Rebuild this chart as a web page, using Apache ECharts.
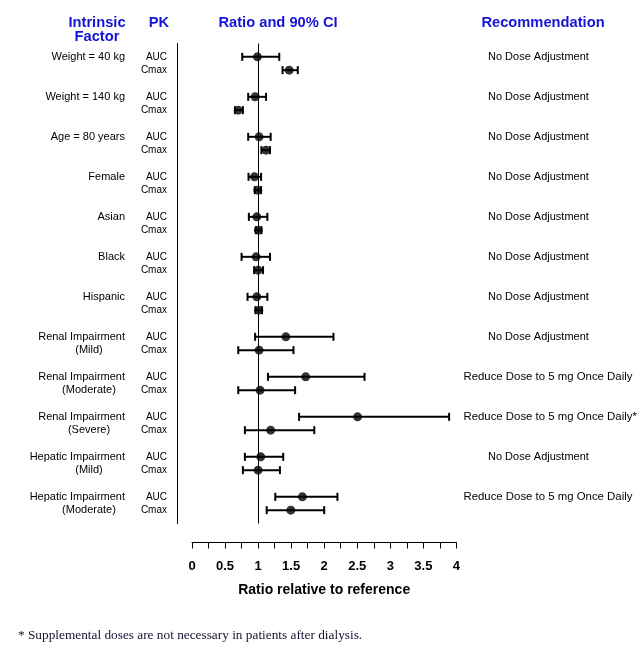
<!DOCTYPE html>
<html><head><meta charset="utf-8">
<script src="https://cdn.jsdelivr.net/npm/echarts@6/dist/echarts.min.js"></script>
<style>html,body{margin:0;padding:0;background:#fff}#c{width:642px;height:650px}</style>
</head><body><div id="c"></div><script>
const factorLine1 = ['Weight = 40 kg','Weight = 140 kg','Age = 80 years','Female','Asian','Black','Hispanic','Renal Impairment','Renal Impairment','Renal Impairment','Hepatic Impairment','Hepatic Impairment'];
const factorLine2 = ['','','','','','','','(Mild)','(Moderate)','(Severe)','(Mild)','(Moderate)'];
const pkParams = ['AUC','Cmax'];
const aucRatio = [0.99,0.955,1.015,0.945,0.98,0.97,0.98,1.42,1.72,2.505,1.04,1.67];
const aucLow   = [0.76,0.85,0.85,0.855,0.86,0.75,0.84,0.955,1.15,1.62,0.80,1.26];
const aucHigh  = [1.32,1.12,1.19,1.045,1.14,1.18,1.14,2.14,2.61,3.89,1.38,2.20];
const cmaxRatio = [1.47,0.70,1.12,0.995,1.005,1.0,1.01,1.015,1.03,1.19,1.0,1.495];
const cmaxLow   = [1.37,0.65,1.05,0.95,0.965,0.94,0.96,0.70,0.70,0.80,0.77,1.13];
const cmaxHigh  = [1.60,0.77,1.18,1.045,1.05,1.075,1.06,1.535,1.56,1.85,1.33,2.0];
const recommendations = ['No Dose Adjustment','No Dose Adjustment','No Dose Adjustment','No Dose Adjustment','No Dose Adjustment','No Dose Adjustment','No Dose Adjustment','No Dose Adjustment','Reduce Dose to 5 mg Once Daily','Reduce Dose to 5 mg Once Daily*','No Dose Adjustment','Reduce Dose to 5 mg Once Daily'];
const xTickLabels = ['0','0.5','1','1.5','2','2.5','3','3.5','4'];
const headers = ['Intrinsic\nFactor','PK','Ratio and 90% CI','Recommendation'];
const xAxisTitle = 'Ratio relative to reference';
const footnote = '* Supplemental doses are not necessary in patients after dialysis.';
const referenceRatio = 1;

const ROW_OFF = 1/6;
const ciData = [], ptData = [], labelData = [];
for (let i = 0; i < factorLine1.length; i++) {
  ciData.push([aucLow[i], aucHigh[i], i - ROW_OFF]);
  ciData.push([cmaxLow[i], cmaxHigh[i], i + ROW_OFF]);
  ptData.push([aucRatio[i], i - ROW_OFF]);
  ptData.push([cmaxRatio[i], i + ROW_OFF]);
  labelData.push([0, i]);
}
const SANS = '"Liberation Sans", Arial, sans-serif';
const BLUE = '#1414d8';
const HFONT = 'bold 14.7px ' + SANS;

const chart = echarts.init(document.getElementById('c'), null, {renderer:'canvas'});
chart.setOption({
  animation: false,
  backgroundColor: '#fff',
  grid: {left: 192, width: 264.4, top: 43.5, height: 480},
  xAxis: {
    type: 'value', min: 0, max: 4, interval: 0.25, offset: 19, position: 'bottom',
    axisLine: {show: true, onZero: false, lineStyle: {color: '#000', width: 1}},
    axisTick: {show: true, inside: false, length: 6, lineStyle: {color: '#000', width: 1}},
    splitLine: {show: false},
    axisLabel: {
      margin: 17, color: '#000', fontFamily: SANS, fontWeight: 'bold', fontSize: 13,
      formatter: v => { const k = Math.round(v * 2); return Math.abs(v * 2 - k) < 1e-6 ? xTickLabels[k] : ''; }
    },
    name: xAxisTitle, nameLocation: 'middle', nameGap: 41,
    nameTextStyle: {color: '#000', fontFamily: SANS, fontWeight: 'bold', fontSize: 14}
  },
  yAxis: {
    type: 'value', inverse: true, min: -0.5, max: 11.5, offset: 15, position: 'left',
    axisLine: {show: true, onZero: false, lineStyle: {color: '#000', width: 1}},
    axisTick: {show: false}, axisLabel: {show: false}, splitLine: {show: false}
  },
  graphic: [
    {type:'text', x: 97, y: 16, style:{text: headers[0], fill: BLUE, font: HFONT, textAlign:'center', textVerticalAlign:'top', lineHeight: 14}},
    {type:'text', x: 159, y: 23, style:{text: headers[1], fill: BLUE, font: HFONT, textAlign:'center', textVerticalAlign:'middle'}},
    {type:'text', x: 278, y: 23, style:{text: headers[2], fill: BLUE, font: HFONT, textAlign:'center', textVerticalAlign:'middle'}},
    {type:'text', x: 543, y: 23, style:{text: headers[3], fill: BLUE, font: HFONT, textAlign:'center', textVerticalAlign:'middle'}},
    {type:'text', x: 18, y: 636, style:{text: footnote, fill: '#1a1030', font: '13.3px "Liberation Serif", "Times New Roman", serif', textAlign:'left', textVerticalAlign:'middle'}}
  ],
  series: [
    {
      type: 'custom', name: 'labels', data: labelData, clip: false, silent: true,
      encode: {x: 0, y: 1},
      renderItem: (params, api) => {
        const i = api.value(1);
        const a = api.coord([0, i - ROW_OFF]);
        const b = api.coord([0, i + ROW_OFF]);
        const e = api.coord([4, i - ROW_OFF]);
        const rec = recommendations[i];
        const isReduce = rec.indexOf('Reduce') === 0;
        const ch = [
          {type:'text', x: a[0] - 67, y: a[1], style:{text: factorLine1[i], fill:'#000', font:'11px ' + SANS, textAlign:'right', textVerticalAlign:'middle'}},
          {type:'text', x: a[0] - 25, y: a[1], style:{text: pkParams[0], fill:'#000', font:'10px ' + SANS, textAlign:'right', textVerticalAlign:'middle'}},
          {type:'text', x: a[0] - 25, y: b[1], style:{text: pkParams[1], fill:'#000', font:'10px ' + SANS, textAlign:'right', textVerticalAlign:'middle'}},
          {type:'text', x: isReduce ? e[0] + 7 : e[0] + 82, y: a[1], style:{text: rec, fill:'#000', font:(isReduce ? '11.4px ' : '11px ') + SANS, textAlign: isReduce ? 'left' : 'center', textVerticalAlign:'middle'}}
        ];
        if (factorLine2[i]) ch.push({type:'text', x: a[0] - 103, y: b[1], style:{text: factorLine2[i], fill:'#000', font:'11px ' + SANS, textAlign:'center', textVerticalAlign:'middle'}});
        return {type:'group', children: ch};
      }
    },
    {
      type: 'custom', name: 'ci', data: ciData, clip: false, silent: true,
      encode: {x: [0, 1], y: 2},
      renderItem: (params, api) => {
        const y = api.value(2);
        const p1 = api.coord([api.value(0), y]);
        const p2 = api.coord([api.value(1), y]);
        const h = 4;
        const st = {stroke: '#000', lineWidth: 2};
        return {type: 'group', children: [
          {type:'line', shape:{x1:p1[0], y1:p1[1], x2:p2[0], y2:p2[1]}, style: st},
          {type:'line', shape:{x1:p1[0], y1:p1[1]-h, x2:p1[0], y2:p1[1]+h}, style: st},
          {type:'line', shape:{x1:p2[0], y1:p2[1]-h, x2:p2[0], y2:p2[1]+h}, style: st}
        ]};
      }
    },
    {
      type: 'scatter', name: 'ratio', data: ptData, symbol: 'circle', symbolSize: 9,
      itemStyle: {color: '#000'}, silent: true, z: 3,
      markLine: {
        silent: true, symbol: ['none','none'], label: {show: false},
        lineStyle: {color: '#000', width: 1, type: 'solid'},
        data: [{xAxis: referenceRatio}]
      }
    }
  ]
});
</script></body></html>
